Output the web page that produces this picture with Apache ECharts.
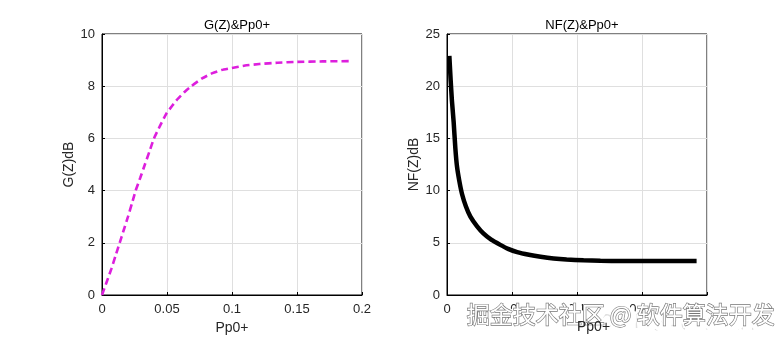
<!DOCTYPE html>
<html><head><meta charset="utf-8">
<script src="https://cdn.jsdelivr.net/npm/echarts@6/dist/echarts.min.js"></script>
<style>html,body{margin:0;padding:0;background:#fff}#c{width:782px;height:340px}</style>
</head><body><div id="c"></div>
<script>
// Left panel: gain G(Z) in dB vs Pp0+
const gX = [0, 0.0036, 0.0072, 0.0104, 0.0136, 0.0168, 0.02, 0.023, 0.0259, 0.0295, 0.033, 0.0365, 0.04, 0.0448, 0.0495, 0.054, 0.058, 0.0635, 0.0687, 0.077, 0.085, 0.092, 0.1, 0.11, 0.121, 0.135, 0.15, 0.17, 0.19];
const gY = [0, 0.5, 1, 1.5, 2, 2.5, 3, 3.5, 4, 4.5, 5, 5.5, 6, 6.5, 6.95, 7.25, 7.5, 7.78, 8.0, 8.3, 8.5, 8.62, 8.7, 8.79, 8.85, 8.9, 8.93, 8.95, 8.96];
// Right panel: noise figure NF(Z) in dB vs Pp0+
const nfX = [0.0018, 0.0028, 0.0038, 0.0051, 0.0064, 0.0077, 0.0095, 0.0115, 0.0145, 0.018, 0.023, 0.028, 0.034, 0.041, 0.047, 0.054, 0.063, 0.072, 0.082, 0.092, 0.105, 0.118, 0.135, 0.156, 0.175, 0.192];
const nfY = [22.9, 20.6, 18.6, 16.6, 14.1, 12.3, 10.9, 9.7, 8.5, 7.5, 6.6, 5.9, 5.3, 4.8, 4.42, 4.1, 3.85, 3.66, 3.5, 3.4, 3.33, 3.28, 3.26, 3.25, 3.25, 3.25];
const xTicks = [0, 0.05, 0.1, 0.15, 0.2];
const titles = ['G(Z)&Pp0+', 'NF(Z)&Pp0+'];
const yNames = ['G(Z)dB', 'NF(Z)dB'];
const xName = 'Pp0+';
const watermark = '掘金技术社区 @ 软件算法开发';

const FONT = 'Liberation Sans, Arial, sans-serif';
const pairs = (xs, ys) => xs.map((x, i) => [x, ys[i]]);
const xAx = (gi, showName) => ({
  type: 'value', gridIndex: gi, min: xTicks[0], max: xTicks[xTicks.length - 1], interval: 0.05,
  name: showName ? xName : '', nameLocation: 'middle', nameGap: 25,
  nameTextStyle: {color: '#262626', fontSize: 14, fontFamily: FONT},
  axisLine: {show: true, lineStyle: {color: '#000', width: 1}},
  axisTick: {show: true, inside: true, length: 3, lineStyle: {color: '#000'}},
  axisLabel: {color: '#262626', fontSize: 13, fontFamily: FONT, margin: 8,
    formatter: v => String(+v.toFixed(2))},
  splitLine: {show: true, lineStyle: {color: '#dfdfdf', width: 1}}
});
const yAx = (gi, max, interval, gap) => ({
  type: 'value', gridIndex: gi, min: 0, max: max, interval: interval,
  name: yNames[gi], nameLocation: 'middle', nameGap: gap,
  nameTextStyle: {color: '#262626', fontSize: 14, fontFamily: FONT},
  axisLine: {show: true, lineStyle: {color: '#000', width: 1}},
  axisTick: {show: true, inside: true, length: 3, lineStyle: {color: '#000'}},
  axisLabel: {color: '#262626', fontSize: 13, fontFamily: FONT, margin: 7},
  splitLine: {show: true, lineStyle: {color: '#dfdfdf', width: 1}}
});

const chart = echarts.init(document.getElementById('c'), null, {renderer: 'canvas'});
chart.setOption({
  animation: false,
  backgroundColor: '#fff',
  title: [
    {text: titles[0], left: 232, top: 14, textAlign: 'center',
     textStyle: {fontSize: 13, fontWeight: 'normal', color: '#000', fontFamily: FONT}},
    {text: titles[1], left: 577, top: 14, textAlign: 'center',
     textStyle: {fontSize: 13, fontWeight: 'normal', color: '#000', fontFamily: FONT}}
  ],
  grid: [
    {left: 102, top: 34, width: 260, height: 261, show: true, borderColor: '#000', borderWidth: 1, backgroundColor: '#fff'},
    {left: 447, top: 34, width: 260, height: 261, show: true, borderColor: '#000', borderWidth: 1, backgroundColor: '#fff'}
  ],
  xAxis: [xAx(0, true), xAx(1, false)],
  yAxis: [yAx(0, 10, 2, 21), yAx(1, 25, 5, 26)],
  series: [
    {type: 'line', xAxisIndex: 0, yAxisIndex: 0, data: pairs(gX, gY), smooth: 0.15,
     showSymbol: false, lineStyle: {color: '#dd1fdd', width: 2.6, type: [7, 4]}},
    {type: 'line', xAxisIndex: 1, yAxisIndex: 1, data: pairs(nfX, nfY), smooth: 0.15,
     showSymbol: false, lineStyle: {color: '#000', width: 4.5}}
  ],
  graphic: [
    {type: 'text', left: 600, top: 312, z: 100,
     style: {text: 'CSDN @软件算法开发', fill: 'rgba(150,150,150,0.3)', font: '18px "Noto Sans CJK SC"'}},
    {type: 'text', left: 466, top: 302, z: 101, silent: true,
     style: {text: watermark, fill: '#fff', stroke: '#fff', lineWidth: 7,
       font: '23px "Noto Sans CJK SC"'}},
    {type: 'text', left: 466, top: 302, z: 102,
     style: {text: watermark, fill: '#fff', stroke: '#777', lineWidth: 1.3,
       font: '23px "Noto Sans CJK SC"'}},
    {type: 'text', left: 577, top: 320, z: 103,
     style: {text: xName, fill: '#262626', font: '14px "Liberation Sans", Arial, sans-serif', textAlign: 'center'}}
  ]
});
</script></body></html>
